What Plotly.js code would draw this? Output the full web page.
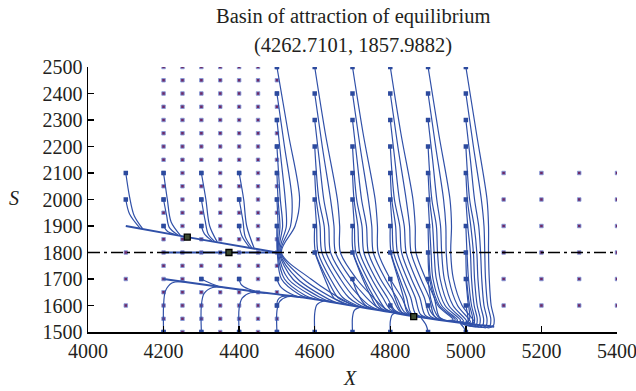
<!DOCTYPE html>
<html><head><meta charset="utf-8">
<script src="https://cdn.plot.ly/plotly-3.0.1.min.js"></script>
<style>html,body{margin:0;padding:0;background:#fff}#chart{width:636px;height:391px}</style>
</head><body><div id="chart"></div>
<script>
// ---- data ----
const titleLines = ['Basin of attraction of equilibrium', '(4262.7101, 1857.9882)'];
const xTicks = [4000, 4200, 4400, 4600, 4800, 5000, 5200, 5400];
const yTicks = [1500, 1600, 1700, 1800, 1900, 2000, 2100, 2200, 2300, 2400, 2500];

// grid of initial points (purple dots)
const gridColsMid = [4200, 4250, 4300, 4350, 4400, 4450, 4500];
const gridRowsMid = [1500,1550,1600,1650,1700,1750,1800,1850,1900,1950,2000,2050,2100,2150,2200,2250,2300,2350,2400,2450,2500];
const gridColsLeft = [4100];
const gridRowsLeft = [1600, 1700, 1800];
const gridColsRight = [5100, 5200, 5300, 5400];
const gridRowsRight = [1600, 1700, 1800, 1900, 2000, 2100];

// equilibria
const eqX = [4262.7101, 4373, 4862];
const eqY = [1857.9882, 1800, 1558];

// invariant lines
const upperLine = [[4100,1900],[4262.7,1858],[4500,1800]];
const lowerLine = [[4200,1700],[4400,1660],[4600,1624],[4800,1575],[4860,1560],[5000,1532],[5075,1520]];
const stableLine = [[4200,1800],[4500,1800]];
const refLineX = [4000, 5400];
const refLineY = [1800, 1800];

// trajectories, left part
const trajLeft = [
 [[4100,2100],[4110,2010],[4122,1940],[4145,1889]],
 [[4100,2000],[4110,1945],[4138,1891]],
 [[4200,2100],[4210,2000],[4220,1915],[4245,1864]],
 [[4200,2000],[4208,1940],[4215,1895],[4238,1866]],
 [[4200,1900],[4210,1880],[4230,1868]],
 [[4300,2100],[4312,2000],[4322,1900],[4342,1840]],
 [[4300,2000],[4310,1920],[4318,1870],[4335,1842]],
 [[4300,1900],[4308,1870],[4328,1844]],
 [[4400,2100],[4412,2000],[4420,1900],[4440,1815]],
 [[4400,2000],[4410,1920],[4416,1860],[4434,1817]],
 [[4400,1900],[4408,1860],[4428,1818]]
];
const trajCol4500 = [
 [[4500,2500],[4530,2250],[4560,2000],[4548,1900],[4512,1800],[4590,1700],[4685,1613],[4710,1597]],
 [[4500,2400],[4520,2200],[4540,2000],[4536,1900],[4510,1800],[4570,1700],[4660,1619],[4685,1603]],
 [[4500,2300],[4511,2150],[4522,2000],[4525,1900],[4508,1800],[4555,1700],[4635,1625],[4660,1609]],
 [[4500,2200],[4509,2000],[4515,1900],[4506,1800],[4542,1700],[4615,1630],[4640,1614]],
 [[4500,2100],[4503,2000],[4508,1900],[4504,1800],[4530,1700],[4595,1635],[4620,1619]],
 [[4500,2000],[4503,1900],[4502,1800],[4520,1700],[4575,1638],[4600,1624]],
 [[4500,1900],[4501,1800],[4512,1700],[4560,1641],[4585,1627]]
];
const trajCol4600 = [
 [[4600,2500],[4628,2250],[4660,2000],[4666,1900],[4668,1800],[4711,1700],[4755,1630],[4785,1589],[4810,1572]],
 [[4600,2400],[4620,2200],[4642,2000],[4651,1900],[4655,1800],[4696,1700],[4737,1630],[4765,1594],[4790,1578]],
 [[4600,2300],[4612,2150],[4624,2000],[4637,1900],[4642,1800],[4681,1700],[4721,1630],[4747,1598],[4772,1582]],
 [[4600,2200],[4611,2000],[4625,1900],[4630,1800],[4668,1700],[4705,1630],[4730,1602],[4755,1586]],
 [[4600,2100],[4604,2000],[4614,1900],[4619,1800],[4655,1700],[4690,1630],[4713,1607],[4738,1590]],
 [[4600,2000],[4605,1900],[4609,1800],[4642,1700],[4674,1630],[4695,1611],[4720,1595]],
 [[4600,1900],[4602,1800],[4633,1700],[4661,1630],[4680,1615],[4705,1599]],
 [[4600,1800],[4627,1700],[4650,1630],[4665,1618],[4690,1602]]
];
const trajCol4700 = [
 [[4700,2500],[4728,2250],[4760,2000],[4766,1900],[4768,1800],[4800,1700],[4830,1630],[4850,1573],[4875,1557]],
 [[4700,2400],[4720,2200],[4742,2000],[4751,1900],[4755,1800],[4787,1700],[4817,1630],[4837,1576],[4862,1560]],
 [[4700,2300],[4712,2150],[4724,2000],[4737,1900],[4742,1800],[4774,1700],[4805,1630],[4825,1579],[4850,1563]],
 [[4700,2200],[4711,2000],[4725,1900],[4730,1800],[4762,1700],[4792,1630],[4812,1582],[4837,1566]],
 [[4700,2100],[4704,2000],[4714,1900],[4719,1800],[4751,1700],[4780,1630],[4800,1585],[4825,1569]],
 [[4700,2000],[4705,1900],[4709,1800],[4740,1700],[4767,1630],[4787,1588],[4812,1572]],
 [[4700,1900],[4702,1800],[4731,1700],[4757,1630],[4775,1591],[4800,1575]],
 [[4700,1800],[4727,1700],[4750,1630],[4765,1594],[4790,1578]]
];
const trajCol4800 = [
 [[4800,2500],[4828,2250],[4860,2000],[4866,1900],[4868,1800],[4894,1700],[4916,1630],[4930,1556],[4955,1541]],
 [[4800,2400],[4820,2200],[4842,2000],[4851,1900],[4855,1800],[4881,1700],[4903,1630],[4917,1559],[4942,1544]],
 [[4800,2300],[4812,2150],[4824,2000],[4837,1900],[4842,1800],[4868,1700],[4890,1630],[4905,1561],[4930,1546]],
 [[4800,2200],[4811,2000],[4825,1900],[4830,1800],[4856,1700],[4878,1630],[4892,1564],[4917,1549]],
 [[4800,2100],[4804,2000],[4814,1900],[4819,1800],[4845,1700],[4866,1630],[4880,1566],[4905,1551]],
 [[4800,2000],[4805,1900],[4809,1800],[4834,1700],[4854,1630],[4867,1569],[4892,1554]],
 [[4800,1900],[4802,1800],[4825,1700],[4843,1630],[4855,1571],[4880,1556]],
 [[4800,1800],[4821,1700],[4835,1630],[4845,1574],[4870,1558]]
];
const trajCol4900 = [
 [[4900,2500],[4928,2250],[4958,2000],[4962,1900],[4960,1800],[4967,1700],[4990,1600],[5022,1537],[5007,1532]],
 [[4900,2400],[4920,2200],[4941,2000],[4947,1900],[4948,1800],[4955,1700],[4978,1600],[5012,1538],[4997,1534]],
 [[4900,2300],[4912,2150],[4923,2000],[4933,1900],[4936,1800],[4943,1700],[4966,1600],[5002,1540],[4987,1536]],
 [[4900,2200],[4910,2000],[4922,1900],[4925,1800],[4932,1700],[4955,1600],[4994,1541],[4979,1538]],
 [[4900,2100],[4904,2000],[4912,1900],[4916,1800],[4922,1700],[4945,1600],[4986,1543],[4971,1539]],
 [[4900,2000],[4904,1900],[4908,1800],[4913,1700],[4936,1600],[4978,1544],[4963,1541]],
 [[4900,1900],[4902,1800],[4907,1700],[4930,1600],[4972,1546],[4957,1542]],
 [[4900,1800],[4904,1700],[4926,1600],[4966,1547],[4951,1543]]
];
const trajCol5000 = [
 [[5000,2500],[5028,2250],[5056,2000],[5060,1900],[5060,1800],[5062,1700],[5067,1600],[5075,1548],[5073,1525],[5062,1516],[5047,1520]],
 [[5000,2400],[5020,2200],[5041,2000],[5048,1900],[5050,1800],[5052,1700],[5058,1600],[5066,1548],[5064,1525],[5053,1516],[5038,1521]],
 [[5000,2300],[5012,2150],[5023,2000],[5034,1900],[5039,1800],[5042,1700],[5048,1600],[5056,1548],[5054,1525],[5043,1517],[5028,1522]],
 [[5000,2200],[5010,2000],[5022,1900],[5029,1800],[5032,1700],[5039,1600],[5047,1549],[5045,1526],[5034,1518],[5019,1523]],
 [[5000,2100],[5004,2000],[5013,1900],[5020,1800],[5023,1700],[5030,1600],[5038,1550],[5036,1527],[5025,1519],[5010,1525]],
 [[5000,2000],[5005,1900],[5012,1800],[5015,1700],[5022,1600],[5030,1551],[5028,1528],[5017,1521],[5002,1527]],
 [[5000,1900],[5003,1800],[5007,1700],[5015,1600],[5023,1552],[5021,1529],[5010,1523],[4995,1529]],
 [[5000,1800],[5002,1700],[5010,1600],[5018,1553],[5016,1530],[5005,1525],[4990,1530]]
];
const trajLow = [
 [[4700,1700],[4712,1650],[4735,1600],[4760,1586]],
 [[4800,1700],[4810,1640],[4830,1575],[4848,1563]],
 [[4900,1700],[4908,1620],[4925,1560],[4940,1545]],
 [[5000,1700],[5005,1620],[5010,1550],[5000,1530]],
 [[4800,1600],[4808,1582],[4822,1570]],
 [[4900,1600],[4910,1570],[4925,1548]],
 [[5000,1600],[5005,1560],[5005,1537],[4995,1532]],
 [[4500,1700],[4510,1670],[4535,1645],[4560,1631]],
 [[4500,1600],[4502,1620],[4512,1633],[4540,1636]],
 [[4400,1700],[4405,1680],[4425,1662],[4455,1650]],
 [[4300,1700],[4318,1688],[4345,1672]],
 [[4200,1500],[4200,1600],[4205,1655],[4222,1685],[4260,1689]],
 [[4300,1500],[4300,1600],[4307,1645],[4330,1668],[4370,1666]],
 [[4400,1500],[4400,1590],[4408,1628],[4430,1648],[4470,1647]],
 [[4500,1500],[4500,1580],[4507,1615],[4528,1633],[4565,1630]],
 [[4600,1500],[4600,1570],[4606,1603],[4625,1617],[4650,1612]],
 [[4700,1500],[4700,1555],[4705,1582],[4722,1595]],
 [[4800,1500],[4800,1540],[4805,1565],[4815,1572]],
 [[4900,1500],[4895,1525],[4882,1552]],
 [[5000,1500],[4995,1515],[4985,1533]]
];

// ---- build traces ----
const BLUE = '#3050a8';
function flatten(groups) {
  const xs = [], ys = [];
  groups.forEach(g => g.forEach(path => {
    path.forEach(p => { xs.push(p[0]); ys.push(p[1]); });
    xs.push(null); ys.push(null);
  }));
  return {xs, ys};
}
function grid(cols, rows) {
  const xs = [], ys = [];
  cols.forEach(c => rows.forEach(r => { xs.push(c); ys.push(r); }));
  return {xs, ys};
}
const allTraj = [trajLeft, trajCol4500, trajCol4600, trajCol4700, trajCol4800, trajCol4900, trajCol5000, trajLow];
const tr = flatten(allTraj);
const g1 = grid(gridColsMid, gridRowsMid), g2 = grid(gridColsLeft, gridRowsLeft), g3 = grid(gridColsRight, gridRowsRight);
const dotsX = g1.xs.concat(g2.xs, g3.xs), dotsY = g1.ys.concat(g2.ys, g3.ys);
const startX = [], startY = [];
allTraj.forEach(g => g.forEach(path => { startX.push(path[0][0]); startY.push(path[0][1]); }));
const mani = flatten([[upperLine, lowerLine, stableLine]]);

const traces = [
  {x: dotsX, y: dotsY, mode: 'markers', type: 'scatter',
   marker: {symbol: 'square', size: 3.5, color: '#6e2a68', line: {color: 'rgba(130,155,220,0.85)', width: 1}}},
  {x: tr.xs, y: tr.ys, mode: 'lines', type: 'scatter', connectgaps: false,
   line: {color: BLUE, width: 1.2, shape: 'spline', smoothing: 0.9}},
  {x: mani.xs, y: mani.ys, mode: 'lines', type: 'scatter', connectgaps: false,
   line: {color: BLUE, width: 2, shape: 'spline', smoothing: 0.6}},
  {x: refLineX, y: refLineY, mode: 'lines', type: 'scatter',
   line: {color: '#000', width: 1.3, dash: '12px,4px,3px,4px'}},
  {x: startX, y: startY, mode: 'markers', type: 'scatter',
   marker: {symbol: 'square', size: 4.5, color: '#2c4a9e', line: {width: 0}}},
  {x: eqX, y: eqY, mode: 'markers', type: 'scatter',
   marker: {symbol: 'square', size: 6, color: '#3d4a30', line: {color: '#000', width: 1.3}}}
];

const FONT = 'Liberation Serif, Times New Roman, serif';
const TXT = '#231f20';
const layout = {
  width: 636, height: 391,
  margin: {l: 88, r: 19, t: 67, b: 59},
  paper_bgcolor: '#fff', plot_bgcolor: '#fff',
  showlegend: false,
  font: {family: FONT, size: 20, color: TXT},
  xaxis: {range: [4000, 5400], tickvals: xTicks, ticktext: xTicks.map(String),
          ticks: 'inside', ticklen: 6, tickwidth: 1.3, tickcolor: '#000', ticklabeloverflow: 'allow',
          showline: true, linecolor: '#000', linewidth: 1.5, mirror: false,
          showgrid: false, zeroline: false, tickfont: {family: FONT, size: 20, color: TXT}},
  yaxis: {range: [1500, 2500], tickvals: yTicks, ticktext: yTicks.map(String),
          ticks: 'inside', ticklen: 6, tickwidth: 1.3, tickcolor: '#000',
          showline: true, linecolor: '#000', linewidth: 1.5, mirror: false,
          showgrid: false, zeroline: false, tickfont: {family: FONT, size: 20, color: TXT}},
  annotations: [
    {text: titleLines[0], xref: 'paper', yref: 'paper', x: 0.5, y: 1.189, showarrow: false,
     xanchor: 'center', yanchor: 'middle', font: {family: FONT, size: 20.5, color: TXT}},
    {text: titleLines[1], xref: 'paper', yref: 'paper', x: 0.5, y: 1.083, showarrow: false,
     xanchor: 'center', yanchor: 'middle', font: {family: FONT, size: 20.5, color: TXT}},
    {text: '<i>X</i>', xref: 'paper', yref: 'paper', x: 0.495, y: -0.174, showarrow: false,
     xanchor: 'center', yanchor: 'middle', font: {family: FONT, size: 20, color: TXT}},
    {text: '<i>S</i>', xref: 'paper', yref: 'paper', x: -0.14, y: 0.506, showarrow: false,
     xanchor: 'center', yanchor: 'middle', font: {family: FONT, size: 20, color: TXT}}
  ]
};
Plotly.newPlot('chart', traces, layout, {staticPlot: true, displayModeBar: false});
</script></body></html>
